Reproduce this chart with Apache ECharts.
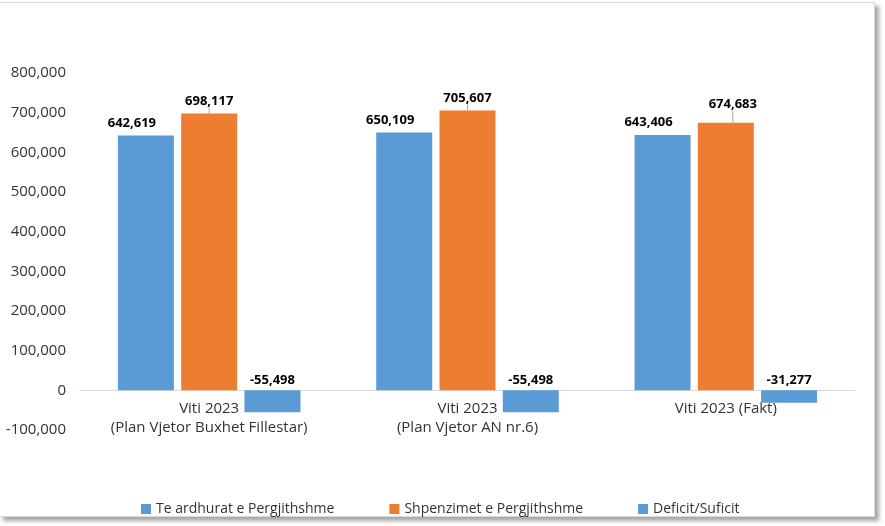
<!DOCTYPE html>
<html>
<head>
<meta charset="utf-8">
<script src="https://cdn.jsdelivr.net/npm/echarts@6/dist/echarts.min.js"></script>
<style>
html,body{margin:0;padding:0;background:#fff;}
#frame{position:absolute;left:-1px;top:2px;width:874px;height:513px;border:1px solid #d9d9d9;box-shadow:4px 4px 4px rgba(0,0,0,0.35);background:#fff;}
#main{position:absolute;left:0;top:0;width:885px;height:526px;}
</style>
</head>
<body>
<div id="frame"></div>
<div id="main"></div>
<script>
const categories = ['Viti 2023\n(Plan Vjetor Buxhet Fillestar)', 'Viti 2023\n(Plan Vjetor AN nr.6)', 'Viti 2023 (Fakt)'];
const seriesNames = ['Te ardhurat e Pergjithshme', 'Shpenzimet e Pergjithshme', 'Deficit/Suficit'];
const revenues = [642619, 650109, 643406];
const expenditures = [698117, 705607, 674683];
const deficit = [-55498, -55498, -31277];
const yTicks = {min: -100000, max: 800000, interval: 100000};

const font = 'Open Sans';
const fmt = v => v.toLocaleString('en-US');
const gridTop = 73, gridBottom = 96, H = 526;
const plotH = H - gridTop - gridBottom;
const zeroOffset = -plotH * (0 - yTicks.min) / (yTicks.max - yTicks.min);
const labelBase = {
  show: true, position: 'top', distance: 6,
  fontFamily: font, fontWeight: 'bold', fontSize: 13, color: '#000',
  formatter: p => fmt(p.value)
};
const chart = echarts.init(document.getElementById('main'), null, {renderer: 'canvas'});
chart.setOption({
  backgroundColor: 'transparent',
  animation: false,
  grid: {left: 80, right: 30, top: gridTop, bottom: gridBottom},
  legend: {
    bottom: 5, left: 136,
    itemWidth: 10, itemHeight: 10, itemGap: 55,
    icon: 'rect',
    textStyle: {fontFamily: font, fontSize: 14, color: '#333'},
    data: seriesNames
  },
  xAxis: {
    type: 'category', data: categories,
    offset: zeroOffset,
    axisLine: {show: true, onZero: false, lineStyle: {color: '#d9d9d9', width: 1}},
    axisTick: {show: false},
    axisLabel: {fontFamily: font, fontSize: 15, color: '#333', lineHeight: 19, margin: 9, interval: 0}
  },
  yAxis: {
    type: 'value', min: yTicks.min, max: yTicks.max, interval: yTicks.interval,
    axisLine: {show: false}, axisTick: {show: false},
    splitLine: {show: false},
    axisLabel: {fontFamily: font, fontSize: 15, color: '#333', margin: 14, formatter: v => fmt(v)}
  },
  series: [
    {name: seriesNames[0], type: 'bar', data: revenues, barWidth: 56, barGap: '13%',
     itemStyle: {color: '#5B9BD5'}, label: Object.assign({}, labelBase, {offset: [-14, 0]})},
    {name: seriesNames[1], type: 'bar', data: expenditures, barWidth: 56, barGap: '13%',
     itemStyle: {color: '#ED7D31'}, label: labelBase,
     labelLayout: p => p.dataIndex === 2 ? {dx: 7, dy: -6} : {},
     labelLine: {show: true, lineStyle: {color: '#a6a6a6', width: 1}}},
    {name: seriesNames[2], type: 'bar', data: deficit, barWidth: 56, barGap: '13%',
     itemStyle: {color: '#5B9BD5'}, label: Object.assign({}, labelBase, {distance: 4})}
  ]
});
</script>
</body>
</html>
